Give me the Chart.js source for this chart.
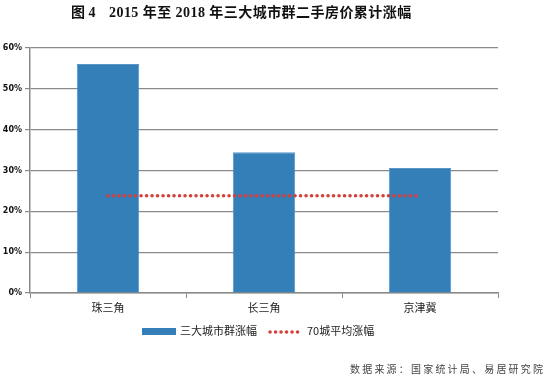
<!DOCTYPE html>
<html>
<head>
<meta charset="utf-8">
<script src="https://cdn.jsdelivr.net/npm/chart.js@4"></script>
<style>
  html, body { margin: 0; padding: 0; background: #fff; }
  #wrap { width: 550px; height: 378px; position: relative; }
</style>
</head>
<body>
<div id="wrap"><canvas id="chart" width="550" height="378"></canvas></div>
<script>
const categories = ["珠三角", "长三角", "京津冀"];
const clusterRise = [56.1, 34.5, 30.6];
const avgRise70 = [23.8, 23.8, 23.8];
const yTicks = [0, 10, 20, 30, 40, 50, 60];

const titleHead = "图 4";
const titleText = "2015 年至 2018 年三大城市群二手房价累计涨幅";
const sourceText = "数据来源：国家统计局、易居研究院";
const barLabel = "三大城市群涨幅";
const lineLabel = "70城平均涨幅";

const BLUE = "#357fb8";
const RED = "#d6403c";
const GRID = "#8a8a8a";

// title, legend and source note drawn on the canvas
const decorations = {
  id: "decorations",
  afterDraw(chart) {
    const ctx = chart.ctx;
    ctx.save();
    ctx.fillStyle = "#111";
    ctx.textBaseline = "middle";
    ctx.textAlign = "left";
    ctx.font = "bold 14px 'Liberation Serif', 'Noto Sans CJK SC', serif";
    ctx.fillText(titleHead, 71, 13);
    ctx.letterSpacing = "0.45px";
    ctx.fillText(titleText, 109, 13);
    ctx.letterSpacing = "0px";

    // legend
    ctx.fillStyle = BLUE;
    ctx.fillRect(142, 328, 34, 7);
    ctx.fillStyle = "#222";
    ctx.font = "11px 'Noto Sans CJK SC', sans-serif";
    ctx.fillText(barLabel, 180, 331);

    ctx.strokeStyle = RED;
    ctx.lineWidth = 3.5;
    ctx.lineCap = "round";
    ctx.setLineDash([0.1, 5.4]);
    ctx.beginPath();
    ctx.moveTo(270, 332);
    ctx.lineTo(300, 332);
    ctx.stroke();
    ctx.setLineDash([]);
    ctx.fillStyle = "#222";
    ctx.fillText(lineLabel, 307, 331);

    // source
    ctx.fillStyle = "#444";
    ctx.font = "10px 'Noto Sans CJK SC', sans-serif";
    let x = 350;
    for (const ch of sourceText) {
      ctx.fillText(ch, x, 369);
      x += 12.2;
    }
    ctx.restore();
  }
};

new Chart(document.getElementById("chart"), {
  data: {
    labels: categories,
    datasets: [
      {
        type: "line",
        label: lineLabel,
        data: avgRise70,
        borderColor: RED,
        borderWidth: 3.5,
        borderDash: [0.1, 5.4],
        borderCapStyle: "round",
        pointRadius: 0,
        fill: false,
        order: 0
      },
      {
        type: "bar",
        label: barLabel,
        data: clusterRise,
        backgroundColor: BLUE,
        borderColor: "#5b95c6",
        borderWidth: { top: 1, left: 1, right: 1, bottom: 0 },
        barPercentage: 0.4,
        categoryPercentage: 1,
        order: 1
      }
    ]
  },
  options: {
    responsive: false,
    animation: false,
    layout: { padding: { top: 48, right: 52, bottom: 0, left: 0 } },
    plugins: {
      legend: { display: false },
      title: { display: false },
      tooltip: { enabled: false }
    },
    scales: {
      x: {
        offset: true,
        grid: {
          offset: true,
          drawOnChartArea: false,
          drawTicks: true,
          tickLength: 5,
          color: GRID
        },
        border: { color: GRID, width: 1.5 },
        ticks: {
          color: "#222",
          padding: 3,
          font: { size: 11, family: "'Noto Sans CJK SC', sans-serif" }
        },
        afterFit(axis) { axis.height = 85; }
      },
      y: {
        min: 0,
        max: 60,
        afterBuildTicks(axis) { axis.ticks = yTicks.map(v => ({ value: v })); },
        grid: { color: GRID, tickLength: 5, lineWidth: 1.2 },
        border: { color: GRID, width: 1.5 },
        ticks: {
          color: "#111",
          padding: 3,
          font: { size: 8, weight: "bold", family: "'DejaVu Sans', sans-serif" },
          callback: v => v + "%"
        },
        afterFit(axis) { axis.width = 30; }
      }
    }
  },
  plugins: [decorations]
});
</script>
</body>
</html>
